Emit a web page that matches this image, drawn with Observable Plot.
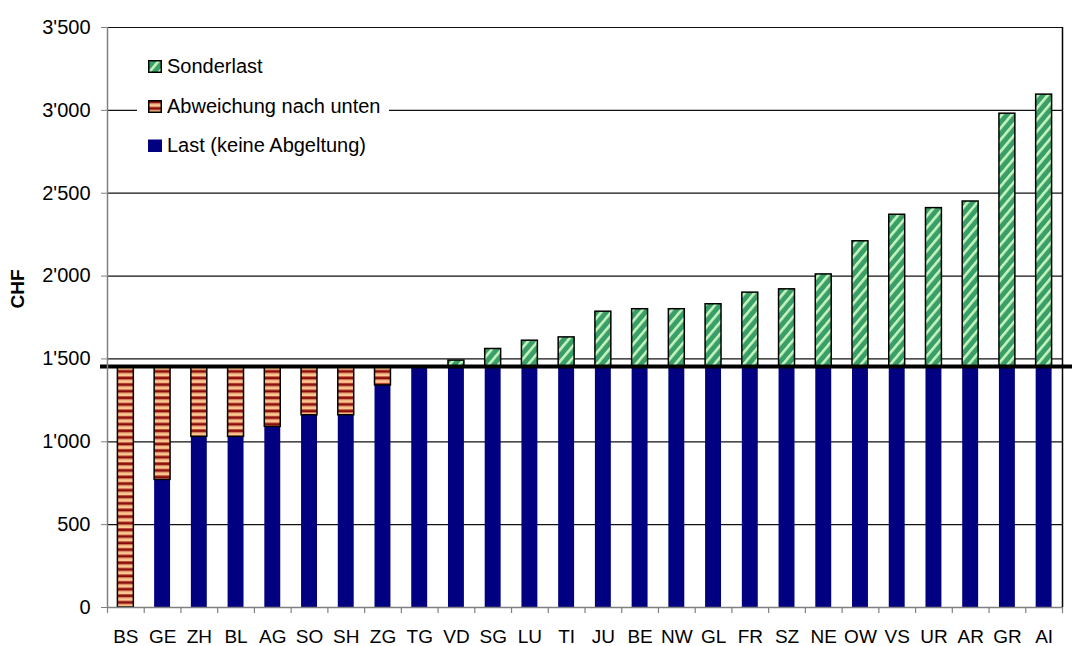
<!DOCTYPE html>
<html><head><meta charset="utf-8">
<script src="https://cdn.jsdelivr.net/npm/d3@7"></script>
<script src="https://cdn.jsdelivr.net/npm/@observablehq/plot@0.6"></script>
<style>
body{margin:0;background:#fff;font-family:"Liberation Sans",Arial,sans-serif;}
#wrap{position:relative;width:1072px;height:646px;overflow:hidden;}
#wrap svg.plot{position:absolute;left:0;top:0;}
#legend{position:absolute;left:137px;top:46px;width:252px;height:120px;background:#fff;}
.item{position:absolute;left:11px;height:24px;display:flex;align-items:center;font-size:20px;color:#000;white-space:nowrap;}
.item svg{margin-right:5px;display:block;}
#ylab{position:absolute;left:18px;top:289px;transform:translate(-50%,-50%) rotate(-90deg);font-weight:bold;font-size:19px;color:#000;}
</style></head><body>
<div id="wrap"></div>
<script>
// ---- data ----
const cantons = ["BS","GE","ZH","BL","AG","SO","SH","ZG","TG","VD","SG","LU","TI","JU","BE","NW","GL","FR","SZ","NE","OW","VS","UR","AR","GR","AI"];
const seriesNames = ["Last (keine Abgeltung)","Abweichung nach unten","Sonderlast"];
const last       = [0,770,1030,1030,1090,1160,1160,1340,1455,1455,1455,1455,1455,1455,1455,1455,1455,1455,1455,1455,1455,1455,1455,1455,1455,1455];
const abweichung = [1455,685,425,425,365,295,295,115,0,0,0,0,0,0,0,0,0,0,0,0,0,0,0,0,0,0];
const sonderlast = [0,0,0,0,0,0,0,0,0,35,105,155,175,330,345,345,375,445,465,555,755,915,955,995,1525,1640];
const threshold = [1455];
const yTicks = [0,500,1000,1500,2000,2500,3000,3500];
const legendOrder = ["Sonderlast","Abweichung nach unten","Last (keine Abgeltung)"];

const fmt = d3.formatLocale({decimal:".", thousands:"'", grouping:[3], currency:["",""]}).format(",");
const fills = ["#000080","url(#pAbw)","url(#pSon)"];

const rows = cantons.flatMap((c,i)=>[
  {canton:c, series:seriesNames[0], value:last[i]},
  {canton:c, series:seriesNames[1], value:abweichung[i]},
  {canton:c, series:seriesNames[2], value:sonderlast[i]}
]).filter(d=>d.value>0);

const W=1072,H=646,ML=107,MR=10,MT=27,MB=39;
const step=(W-ML-MR)/cantons.length;

const fig = Plot.plot({
  width:W, height:H, marginLeft:ML, marginRight:MR, marginTop:MT, marginBottom:MB,
  style:{fontFamily:"'Liberation Sans', Arial, sans-serif", background:"#fff", color:"#000"},
  x:{domain:cantons, padding:0, round:false, label:null},
  y:{domain:[0,3500], label:null},
  color:{domain:seriesNames, range:fills},
  marks:[
    Plot.ruleY(yTicks.filter(t=>t>0), {stroke:"#111", strokeWidth:1.2}),
    Plot.barY(rows, {x:"canton", y:"value", fill:"series", stroke:"#000",
      strokeOpacity:d=>d.series===seriesNames[0]?0:1, strokeWidth:1.5,
      insetLeft:10.4, insetRight:10.4}),
    Plot.ruleY(threshold, {stroke:"#000", strokeWidth:4, insetLeft:-7, insetRight:-10}),
    Plot.ruleY([0], {stroke:"#808080", strokeWidth:1.5}),
    Plot.ruleX(cantons, {x:d=>d, y1:0, y2:-36, dx:-step/2, stroke:"#808080", strokeWidth:1.2}),
    Plot.ruleX([cantons[cantons.length-1]], {x:d=>d, y1:0, y2:-36, dx:step/2, stroke:"#808080", strokeWidth:1.2}),
    Plot.ruleX([cantons[0]], {x:d=>d, y1:0, y2:3500, dx:-step/2, stroke:"#808080", strokeWidth:1.5}),
    Plot.ruleX([cantons[cantons.length-1]], {x:d=>d, y1:0, y2:3500, dx:step/2, stroke:"#000", strokeWidth:1.5}),
    Plot.axisY({ticks:yTicks, tickFormat:fmt, tickSize:6, tickPadding:11, fontSize:20, stroke:"#808080"}),
    Plot.axisX({tickSize:0, tickPadding:22, fontSize:19})
  ]
});
fig.classList.add("plot");

// pattern definitions
const defs = d3.select(fig).insert("defs", ":first-child");
const pA = defs.append("pattern").attr("id","pAbw").attr("patternUnits","userSpaceOnUse").attr("width",20).attr("height",6.6);
pA.append("rect").attr("width",20).attr("height",6.6).attr("fill","#fcc992");
pA.append("rect").attr("y",0).attr("width",20).attr("height",1).attr("fill","#c0503a");
pA.append("rect").attr("y",1).attr("width",20).attr("height",2.2).attr("fill","#860b0b");
pA.append("rect").attr("y",3.2).attr("width",20).attr("height",0.8).attr("fill","#d06a4a");
const pS = defs.append("pattern").attr("id","pSon").attr("patternUnits","userSpaceOnUse").attr("width",7.5).attr("height",10).attr("patternTransform","rotate(40)");
pS.append("rect").attr("width",7.5).attr("height",10).attr("fill","#3a9e68");
pS.append("rect").attr("x",0).attr("width",2.6).attr("height",10).attr("fill","#c4f5bd");

const wrap = document.getElementById("wrap");
wrap.appendChild(fig);

// legend
const legend = document.createElement("div");
legend.id="legend";
const rowsY=[8,48.5,87.5];
legendOrder.forEach((name,i)=>{
  const k = seriesNames.indexOf(name);
  const it = document.createElement("div");
  it.className="item"; it.style.top=rowsY[i]+"px";
  const sw = k===0
    ? `<svg width="14" height="13"><rect x="0" y="0.5" width="14" height="12.5" fill="${fills[k]}"/></svg>`
    : `<svg width="14" height="13"><rect x="0.75" y="0.75" width="12.5" height="11.5" fill="${fills[k]}" stroke="#000" stroke-width="1.5"/></svg>`;
  it.innerHTML = sw + `<span>${name}</span>`;
  legend.appendChild(it);
});
wrap.appendChild(legend);
const yl=document.createElement("div"); yl.id="ylab"; yl.textContent="CHF"; wrap.appendChild(yl);
</script>
</body></html>
